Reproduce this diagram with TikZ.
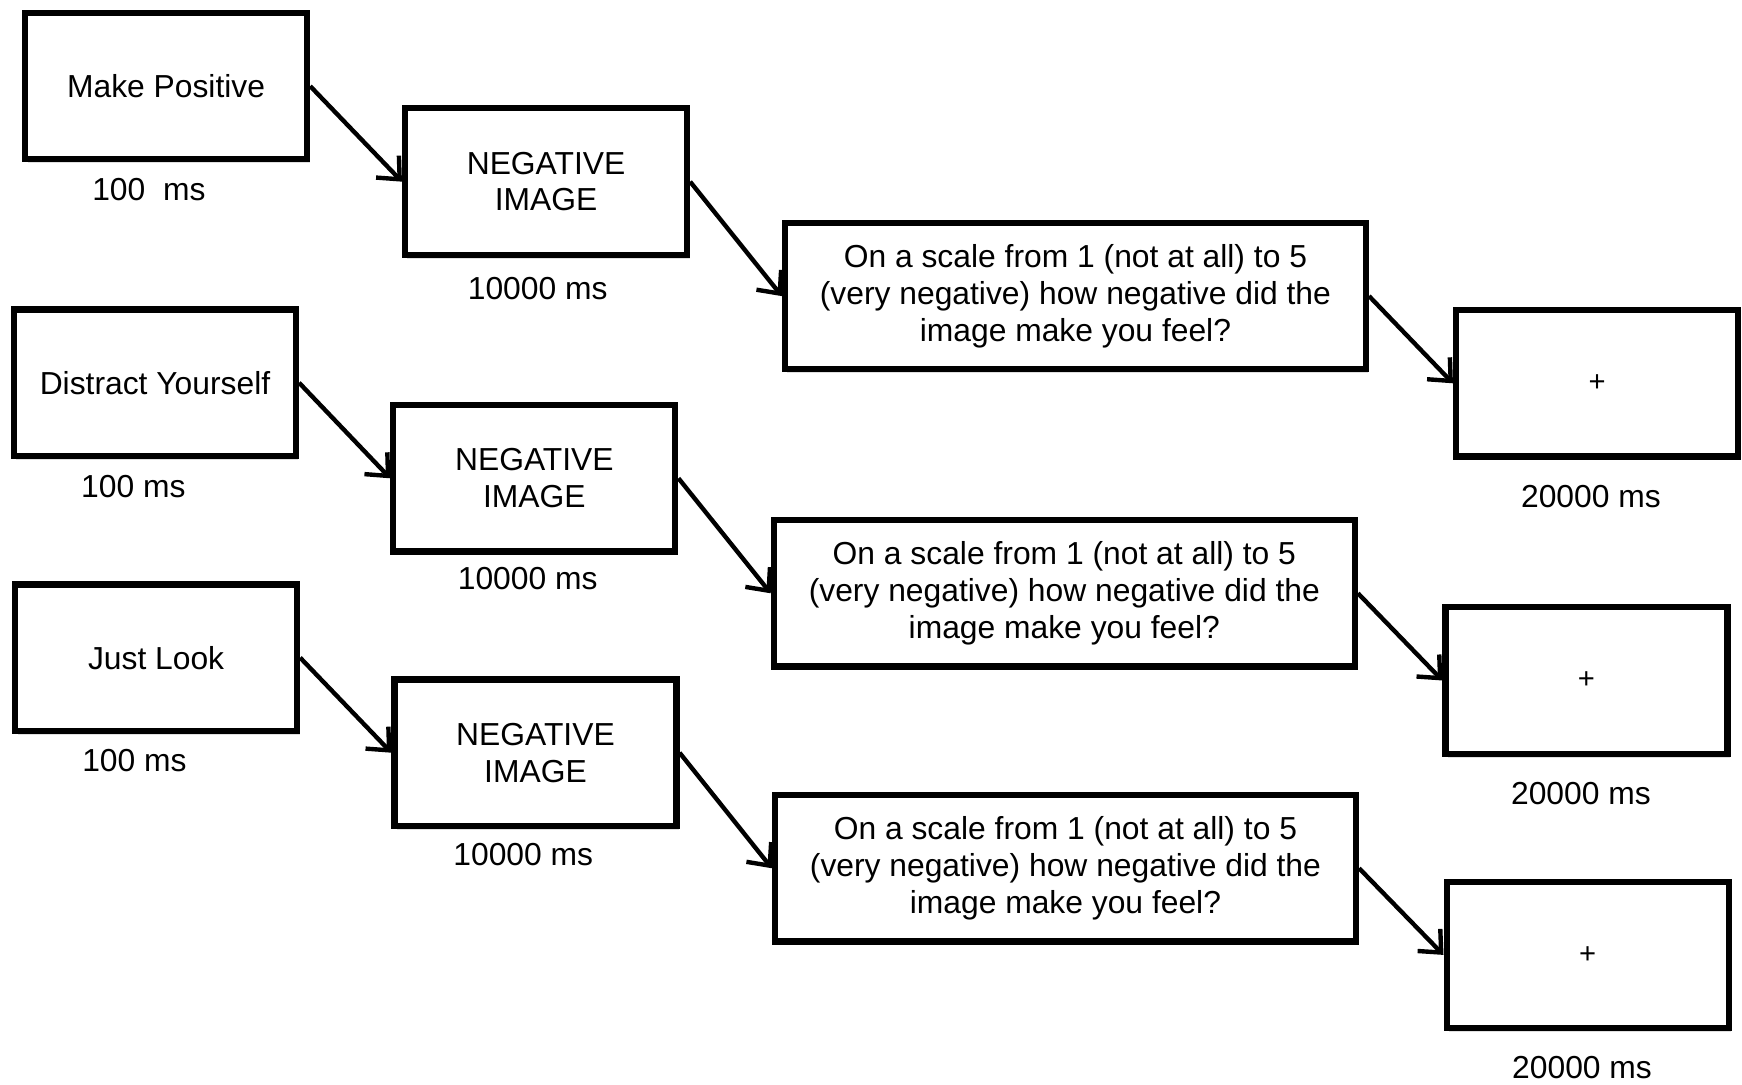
\documentclass[tikz,border=0pt]{standalone}
\usepackage{fontspec}
\setmainfont{Liberation Sans}
\usetikzlibrary{arrows.meta,shadows}
\begin{document}
\begin{tikzpicture}[x=0.011110cm, y=-0.011110cm,
  every node/.style={font=\fontsize{9.05pt}{10.45pt}\selectfont, inner sep=0pt},
  box/.style={draw, line width=1.75pt, fill=white, minimum width=2.82cm, minimum height=1.465cm, align=center,
    drop shadow={opacity=0.25, shadow xshift=0.7pt, shadow yshift=-1.1pt}},
  qbox/.style={box, minimum width=5.81cm},
  crossbox/.style={box, font=\fontsize{8.3pt}{9pt}\selectfont},
  lbl/.style={},
  link/.style={line width=1.25pt, -{Straight Barb[length=5pt, width=9pt, line width=1.25pt]}}
]
\useasboundingbox (0,0) rectangle (1568,976);

% Row 1
\node[box] (mp) at (149.5,77.5) {Make Positive};
\node[box] (n1) at (491.5,163.5) {NEGATIVE\\IMAGE};
\node[qbox] (q1) at (968,266.5) {On a scale from 1 (not at all) to 5\\(very negative) how negative did the\\image make you feel?};
\node[crossbox] (p1) at (1437.5,345) {+};
\node[lbl] (lmp) at (134,171) {100\ \ ms};
\node[lbl] (ln1) at (484,260) {10000 ms};
\node[lbl] (lp1) at (1432,447) {20000 ms};

% Row 2
\node[box] (dy) at (139.5,344.5) {Distract Yourself};
\node[box] (n2) at (481,430.5) {NEGATIVE\\IMAGE};
\node[qbox] (q2) at (958,534) {On a scale from 1 (not at all) to 5\\(very negative) how negative did the\\image make you feel?};
\node[crossbox] (p2) at (1428,612.5) {+};
\node[lbl] (ldy) at (120,438) {100 ms};
\node[lbl] (ln2) at (475,521) {10000 ms};
\node[lbl] (lp2) at (1423,714) {20000 ms};

% Row 3
\node[box] (jl) at (140.5,592) {Just Look};
\node[box] (n3) at (482,677.5) {NEGATIVE\\IMAGE};
\node[qbox] (q3) at (959,781.5) {On a scale from 1 (not at all) to 5\\(very negative) how negative did the\\image make you feel?};
\node[crossbox] (p3) at (1429,859.5) {+};
\node[lbl] (ljl) at (121,685) {100 ms};
\node[lbl] (ln3) at (471,769) {10000 ms};
\node[lbl] (lp3) at (1424,961) {20000 ms};

% Connectors
\draw[link] (mp.east) -- (n1.west);
\draw[link] (n1.east) -- (q1.west);
\draw[link] (q1.east) -- (p1.west);
\draw[link] (dy.east) -- (n2.west);
\draw[link] (n2.east) -- (q2.west);
\draw[link] (q2.east) -- (p2.west);
\draw[link] (jl.east) -- (n3.west);
\draw[link] (n3.east) -- (q3.west);
\draw[link] (q3.east) -- (p3.west);
\end{tikzpicture}
\end{document}
